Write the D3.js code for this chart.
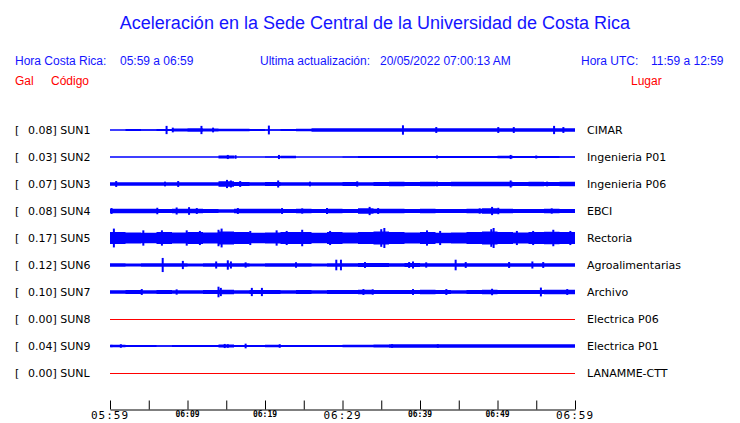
<!DOCTYPE html>
<html lang="es">
<head>
<meta charset="utf-8">
<title>Aceleracion Sede Central</title>
<script src="https://d3js.org/d3.v7.min.js"></script>
<style>
    body { margin: 0; background: #fff; }
    .hdr { font-family: "Liberation Sans", Arial, sans-serif; font-size: 12px; }
    .lbl { font-family: "DejaVu Sans", sans-serif; font-size: 11px; fill: #000; }
</style>
</head>
<body>
<div id="sismo"></div>
<script>

    // stations, top to bottom
    var codes  = ["SUN1", "SUN2", "SUN3", "SUN4", "SUN5", "SUN6", "SUN7", "SUN8", "SUN9", "SUNL"]
    var places = ["CIMAR", "Ingenieria P01", "Ingenieria P06", "EBCI", "Rectoria", "Agroalimentarias",
                  "Archivo", "Electrica P06", "Electrica P01", "LANAMME-CTT"]
    var peaks  = [0.08, 0.03, 0.07, 0.08, 0.17, 0.12, 0.10, 0.00, 0.04, 0.00]

    // band half-amplitude (Gal), one value every 2 minutes
    var envSUN1 = [0.01,0.015,0.012,0.018,0.025,0.028,0.025,0.022,0.02,0.015,0.012,0.015,0.02,0.028,0.03,
                   0.03,0.03,0.03,0.028,0.03,0.03,0.03,0.03,0.03,0.03,0.03,0.028,0.03,0.03,0.03]
    var envSUN2 = [0.008,0.008,0.01,0.008,0.008,0.01,0.008,0.025,0.01,0.008,0.012,0.022,0.01,0.008,0.008,
                   0.012,0.015,0.018,0.015,0.018,0.015,0.018,0.018,0.015,0.018,0.02,0.018,0.015,0.018,0.012]
    var envSUN3 = [0.03,0.03,0.03,0.028,0.03,0.03,0.03,0.045,0.035,0.03,0.035,0.03,0.03,0.028,0.03,
                   0.035,0.03,0.035,0.038,0.035,0.04,0.035,0.038,0.04,0.04,0.038,0.035,0.04,0.035,0.038]
    var envSUN4 = [0.04,0.038,0.04,0.035,0.04,0.038,0.035,0.03,0.04,0.038,0.04,0.035,0.038,0.035,0.04,
                   0.035,0.045,0.04,0.038,0.035,0.038,0.035,0.035,0.04,0.045,0.04,0.035,0.035,0.038,0.035]
    var envSUN5 = [0.1,0.095,0.09,0.1,0.095,0.1,0.095,0.11,0.1,0.09,0.095,0.1,0.1,0.09,0.1,
                   0.095,0.1,0.11,0.1,0.095,0.1,0.09,0.095,0.1,0.11,0.1,0.095,0.1,0.105,0.1]
    var envSUN6 = [0.028,0.025,0.028,0.03,0.028,0.025,0.028,0.03,0.028,0.025,0.028,0.028,0.028,0.025,0.028,
                   0.03,0.035,0.032,0.03,0.035,0.03,0.028,0.03,0.028,0.028,0.028,0.03,0.028,0.03,0.03]
    var envSUN7 = [0.03,0.035,0.03,0.035,0.03,0.03,0.035,0.04,0.03,0.035,0.035,0.03,0.035,0.03,0.035,
                   0.035,0.04,0.035,0.035,0.035,0.038,0.035,0.03,0.035,0.04,0.035,0.035,0.035,0.04,0.04]
    var envSUN9 = [0.02,0.015,0.015,0.012,0.015,0.018,0.015,0.025,0.018,0.015,0.02,0.018,0.015,0.018,0.015,
                   0.02,0.022,0.025,0.028,0.028,0.028,0.028,0.028,0.028,0.028,0.028,0.028,0.028,0.028,0.028]

    // [minute after 05:59, amplitude in Gal] of the bigger peaks
    var spkSUN1 = [[7.3,0.07],[8.1,0.04],[11.8,0.07],[13.3,0.04],[20.5,0.075],[37.8,0.08],[42.1,0.05],
                   [50.1,0.05],[52.1,0.05],[57.3,0.07],[58.5,0.05]]
    var spkSUN2 = [[15.2,0.035],[16.2,0.03],[21.8,0.035],[42.2,0.025],[51.7,0.035],[55,0.025]]
    var spkSUN3 = [[0.8,0.05],[7.1,0.04],[8.8,0.05],[15.1,0.07],[15.6,0.06],[16.8,0.05],[21.7,0.06],
                   [25.8,0.04],[31.9,0.045],[42.2,0.04],[51.7,0.06],[56.4,0.04]]
    var spkSUN4 = [[0.2,0.05],[6.1,0.055],[8.6,0.06],[10.2,0.065],[11.2,0.05],[16.5,0.05],[22.2,0.05],
                   [24.8,0.045],[28,0.05],[33.5,0.07],[34.6,0.05],[47.7,0.045],[49.3,0.07],[50.1,0.055],[57,0.045]]
    var spkSUN5 = [[0.5,0.16],[4.3,0.13],[6.7,0.13],[9.9,0.13],[11.6,0.12],[14,0.14],[14.4,0.16],
                   [18.1,0.12],[21.5,0.13],[22.8,0.12],[24.8,0.14],[28.4,0.12],[35,0.15],[35.4,0.17],
                   [40.9,0.13],[42.6,0.12],[49.2,0.15],[49.5,0.17],[52.5,0.12],[54.6,0.12],[57.2,0.14],[59.4,0.12]]
    var spkSUN6 = [[6.8,0.12],[9.4,0.07],[13.7,0.06],[15.2,0.08],[15.6,0.06],[17.5,0.045],[24,0.045],
                   [29.2,0.09],[29.8,0.09],[32.9,0.05],[38.6,0.05],[39.1,0.06],[40.8,0.045],[44.6,0.09],
                   [45.9,0.05],[51.5,0.05],[54.5,0.06],[55.9,0.05]]
    var spkSUN7 = [[4.1,0.05],[8.6,0.045],[14,0.09],[14.3,0.07],[18.3,0.07],[19.6,0.07],[32.7,0.05],
                   [33.9,0.045],[39.1,0.05],[43.4,0.05],[49.3,0.055],[55.6,0.075],[59,0.05]]
    var spkSUN9 = [[0.2,0.02],[1.4,0.03],[14.8,0.035],[15.2,0.03],[17.5,0.04],[21.9,0.03],[36.4,0.03],[42.3,0.03]]

    var envs   = {SUN1: envSUN1, SUN2: envSUN2, SUN3: envSUN3, SUN4: envSUN4, SUN5: envSUN5,
                  SUN6: envSUN6, SUN7: envSUN7, SUN9: envSUN9}
    var spikes = {SUN1: spkSUN1, SUN2: spkSUN2, SUN3: spkSUN3, SUN4: spkSUN4, SUN5: spkSUN5,
                  SUN6: spkSUN6, SUN7: spkSUN7, SUN9: spkSUN9}

    // time axis
    var tickMinutes = d3.range(0, 61, 5)
    var labelMinutes = [0, 10, 20, 30, 40, 50, 60]
    var tickLabels = ["05:59", "06:09", "06:19", "06:29", "06:39", "06:49", "06:59"]
    var bigLabels = ["05:59", "06:29", "06:59"]

    var width = 740
    var height = 423

    var svg = d3.select("#sismo")
        .append("svg")
        .attr("width", width)
        .attr("height", height)

    var x = d3.scaleLinear().domain([0, 60]).range([110, 575])
    var row = d3.scalePoint().domain(codes).range([130, 373])
    var amp = d3.scaleLinear().domain([0, 0.17]).range([0, 10])

    // header
    svg.append("text")
        .attr("x", 375).attr("y", 29)
        .attr("text-anchor", "middle")
        .style("font-family", "Liberation Sans, Arial, sans-serif")
        .style("font-size", "18px")
        .attr("fill", "#1414ff")
        .text("Aceleración en la Sede Central de la Universidad de Costa Rica")

    var hdr = [
        [15, 65, "Hora Costa Rica:", "#1414ff"],
        [120, 65, "05:59 a 06:59", "#1414ff"],
        [260, 65, "Ultima actualización:", "#1414ff"],
        [380, 65, "20/05/2022 07:00:13 AM", "#1414ff"],
        [581, 65, "Hora UTC:", "#1414ff"],
        [651, 65, "11:59 a 12:59", "#1414ff"],
        [15, 85, "Gal", "#ff0000"],
        [51, 85, "Código", "#ff0000"],
        [631, 85, "Lugar", "#ff0000"]
    ]
    svg.selectAll("text.hdr")
        .data(hdr)
        .enter()
        .append("text")
        .attr("class", "hdr")
        .attr("x", function(d) { return d[0] })
        .attr("y", function(d) { return d[1] })
        .attr("fill", function(d) { return d[3] })
        .text(function(d) { return d[2] })

    // one group per station
    var area = d3.area()
        .x(function(d) { return x(d.t) })
        .y0(function(d) { return -amp(d.a) })
        .y1(function(d) { return amp(d.a) })
        .curve(d3.curveStepAfter)

    var g = svg.selectAll("g.sta")
        .data(codes)
        .enter()
        .append("g")
        .attr("class", "sta")
        .attr("transform", function(d) { return "translate(0," + row(d) + ")" })

    g.append("text")
        .attr("class", "lbl")
        .attr("x", 15).attr("y", 4)
        .text("[")
    g.append("text")
        .attr("class", "lbl")
        .attr("x", 28).attr("y", 4)
        .text(function(d, i) { return peaks[i].toFixed(2) + "] " + d })
    g.append("text")
        .attr("class", "lbl")
        .attr("x", 587).attr("y", 4)
        .text(function(d, i) { return places[i] })

    g.each(function(code) {
        var sel = d3.select(this)
        var env = envs[code]
        if (!env) {
            // no signal: flat red trace
            sel.append("line")
                .attr("x1", x(0)).attr("x2", x(60))
                .attr("y1", 0.5).attr("y2", 0.5)
                .attr("stroke", "#ff0000")
                .attr("stroke-width", 1)
            return
        }
        var pts = env.map(function(a, i) { return {t: i * 2, a: a} })
        pts.push({t: 60, a: env[env.length - 1]})
        sel.append("path")
            .attr("d", area(pts))
            .attr("fill", "#0000ff")
        sel.append("line")
            .attr("x1", x(0)).attr("x2", x(60))
            .attr("y1", 0).attr("y2", 0)
            .attr("stroke", "#0000ff")
            .attr("stroke-width", 1.2)
        sel.selectAll("line.spk")
            .data(spikes[code])
            .enter()
            .append("line")
            .attr("class", "spk")
            .attr("x1", function(d) { return x(d[0]) })
            .attr("x2", function(d) { return x(d[0]) })
            .attr("y1", function(d) { return -amp(d[1]) })
            .attr("y2", function(d) { return amp(d[1]) })
            .attr("stroke", "#0000ff")
            .attr("stroke-width", 2)
    })

    // time axis, ticks pointing up
    var axis = svg.append("g")
        .attr("transform", "translate(0,409.5)")
        .call(d3.axisTop(x).tickValues(tickMinutes).tickSize(9).tickSizeOuter(0).tickFormat(""))
    axis.select(".domain").attr("stroke", "#000")
    axis.selectAll(".tick line").attr("stroke", "#000")

    svg.selectAll("text.tl")
        .data(labelMinutes)
        .enter()
        .append("text")
        .attr("class", "tl")
        .attr("x", function(d) { return x(d) })
        .attr("y", function(d, i) { return bigLabels.indexOf(tickLabels[i]) >= 0 ? 419 : 417 })
        .attr("text-anchor", "middle")
        .style("font-family", "DejaVu Sans Mono, monospace")
        .style("font-size", function(d, i) { return bigLabels.indexOf(tickLabels[i]) >= 0 ? "11px" : "8px" })
        .style("font-weight", function(d, i) { return bigLabels.indexOf(tickLabels[i]) >= 0 ? "normal" : "bold" })
        .style("letter-spacing", function(d, i) { return bigLabels.indexOf(tickLabels[i]) >= 0 ? "1px" : "0px" })
        .attr("fill", "#000")
        .text(function(d, i) { return tickLabels[i] })

</script>
</body>
</html>
